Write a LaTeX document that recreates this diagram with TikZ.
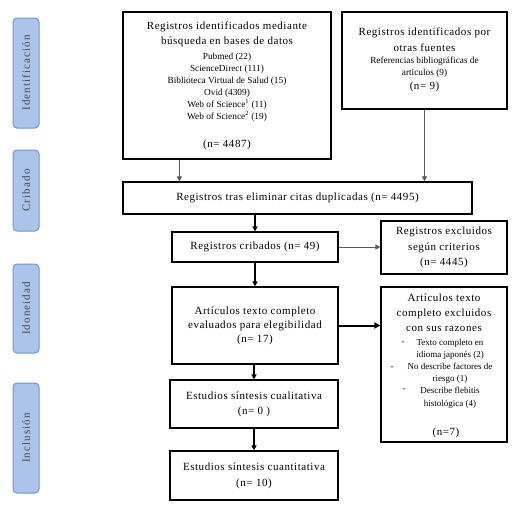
\documentclass[tikz,border=0pt]{standalone}
\usepackage{fontspec}
\setmainfont{Liberation Serif}
\newfontfamily\mainf[LetterSpace=5]{Liberation Serif}
\newfontfamily\sidef[LetterSpace=10]{Liberation Serif}
\usetikzlibrary{arrows.meta}
\definecolor{sidefill}{RGB}{172,196,234}
\definecolor{sideborder}{RGB}{110,150,205}
\definecolor{sidetext}{RGB}{70,70,70}
\newcommand{\bigtx}{\mainf\fontsize{11}{15}\selectfont}
\newcommand{\smalltx}{\fontsize{9.3}{12}\selectfont}
\begin{document}
\begin{tikzpicture}[x=1pt,y=-1pt,
  box/.style={draw=black, line width=1.2pt, inner sep=0pt, align=center, font=\bigtx},
  txt/.style={inner sep=0pt, align=center},
  side/.style={draw=sideborder, fill=sidefill, line width=1pt, rounded corners=4pt,
     minimum height=26pt, inner sep=0pt, rotate=90, text=sidetext, font=\sidef\fontsize{11}{13}\selectfont},
  conn/.style={draw=black!65, line width=0.8pt, -{Triangle[length=5pt,width=5pt]}},
  connb/.style={draw=black, line width=1.4pt, -{Triangle[length=5pt,width=5pt]}},
  conng/.style={draw=black, line width=2pt, -{Triangle[length=6pt,width=6pt]}}
]
\useasboundingbox (0,0) rectangle (515,509);

% side labels
\node[side, minimum width=110pt] (sid) at (26,73) {Identificación};
\node[side, minimum width=81pt] (scr) at (26,190.5) {Cribado};
\node[side, minimum width=89pt] (sido) at (26,308.5) {Idoneidad};
\node[side, minimum width=110pt] (sinc) at (26,438) {Inclusión};

% boxes
\node[box, minimum width=208pt, minimum height=147pt] (b1) at (227,85.5) {};
\node[txt, font=\bigtx] (b1h) at (227,34.5) {Registros identificados mediante\\búsqueda en bases de datos};
\node[txt, font=\smalltx] (b1l) at (227,87) {Pubmed (22)\\ScienceDirect (111)\\Biblioteca Virtual de Salud (15)\\Ovid (4309)\\Web of Science\textsuperscript{1} (11)\\Web of Science\textsuperscript{2} (19)};
\node[txt, font=\bigtx] (b1n) at (227,145) {(n= 4487)};

\node[box, minimum width=165pt, minimum height=97pt] (b2) at (424.5,60.5) {};
\node[txt, font=\mainf\fontsize{11}{16}\selectfont] (b2h) at (424.5,40) {Registros identificados por\\otras fuentes};
\node[txt, font=\smalltx] (b2l) at (424.5,67) {Referencias bibliográficas de\\articulos (9)};
\node[txt, font=\bigtx] (b2n) at (424.5,87) {(n= 9)};

\node[box, minimum width=349pt, minimum height=32pt] (b3) at (297.5,198) {Registros tras eliminar citas duplicadas (n= 4495)};
\node[box, minimum width=166pt, minimum height=30pt] (b4) at (255,247) {Registros cribados (n= 49)};
\node[box, minimum width=126pt, minimum height=53pt, font=\mainf\fontsize{11}{15.5}\selectfont] (b5) at (444,247.5) {Registros excluidos\\según criterios\\(n= 4445)};
\node[box, minimum width=166pt, minimum height=77pt, font=\mainf\fontsize{11}{14}\selectfont] (b6) at (255,325.5) {Artículos texto completo\\evaluados para elegibilidad\\(n= 17)};

\node[box, minimum width=126pt, minimum height=155pt] (b7) at (444,364.5) {};
\node[txt, font=\bigtx] (b7h) at (444,313) {Artículos texto\\completo excluidos\\con sus razones};
\node[txt, font=\fontsize{9}{12.2}\selectfont] (b7l) at (450,373.5) {Texto completo en\\idioma japonés (2)\\No describe factores de\\riesgo (1)\\Describe flebitis\\histológica (4)};
\node[txt, font=\fontsize{9}{12}\selectfont] (d1) at (403,343) {-};
\node[txt, font=\fontsize{9}{12}\selectfont] (d2) at (392,368) {-};
\node[txt, font=\fontsize{9}{12}\selectfont] (d3) at (404,390) {-};
\node[txt, font=\bigtx] (b7n) at (446,433) {(n=7)};

\node[box, minimum width=168pt, minimum height=48pt] (b8) at (254,404) {Estudios síntesis cualitativa\\(n= 0 )};
\node[box, minimum width=168pt, minimum height=49pt, font=\mainf\fontsize{11}{16}\selectfont] (b9) at (254,475.5) {Estudios síntesis cuantitativa\\(n= 10)};

% connectors
\draw[conn] ([xshift=57pt]b1.south west) -- ([xshift=57pt]b3.north west);
\draw[conn] (b2.south) -- (b2.south |- b3.north);
\draw[connb] (b4.north |- b3.south) -- (b4.north);
\draw[conn] (b4.east) -- (b5.west |- b4.east);
\draw[connb] (b4.south) -- (b6.north);
\draw[conng] (b6.east) -- (b7.west |- b6.east);
\draw[connb] (b6.south -| b8.north) -- (b8.north);
\draw[connb] (b8.south) -- (b9.north);
\end{tikzpicture}
\end{document}
